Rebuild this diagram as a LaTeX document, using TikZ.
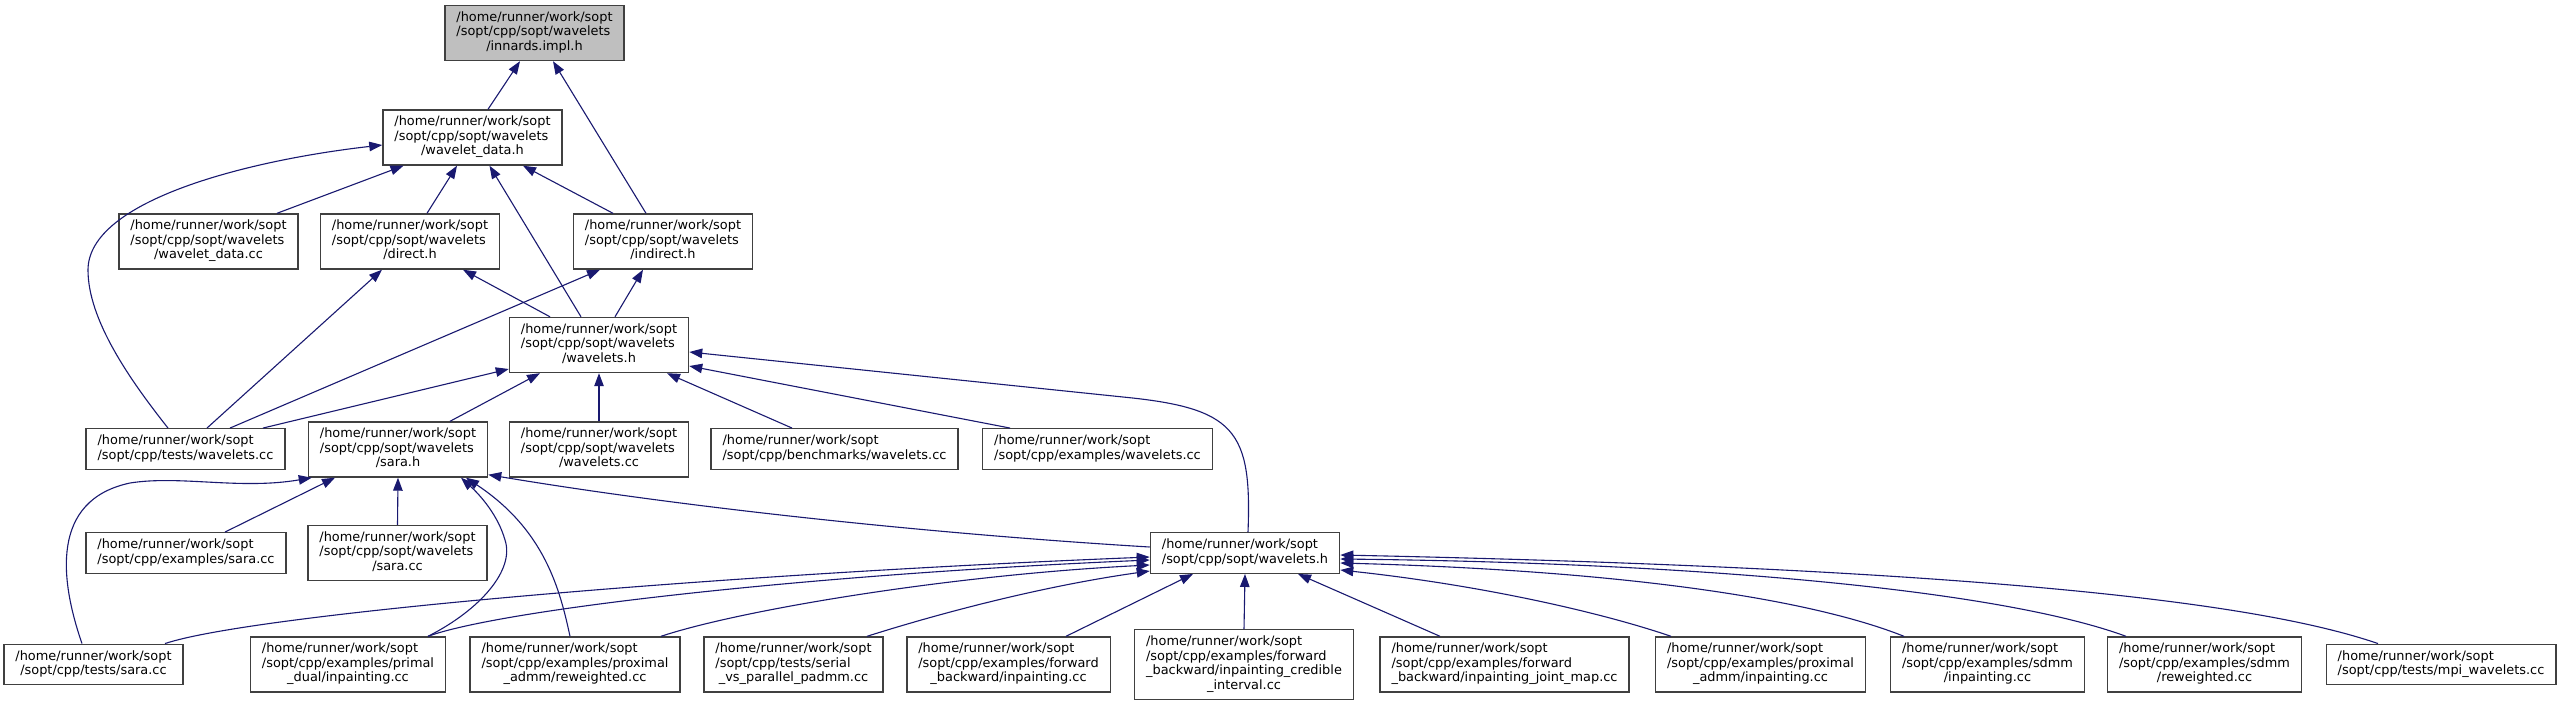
\documentclass[tikz,border=0pt]{standalone}
\usepackage{fontspec}
\setmainfont{DejaVu Sans}
\usetikzlibrary{arrows.meta,positioning}
\definecolor{cEdge}{HTML}{191970}
\definecolor{cFrame}{HTML}{404040}
\definecolor{cRoot}{HTML}{BFBFBF}
% lines left aligned, last line centred
\newcommand{\flabel}[2]{\begin{tabular}{@{}l@{}}#1\\\multicolumn{1}{@{}c@{}}{#2}\end{tabular}}
\tikzset{
  filebox/.style={rectangle, draw=cFrame, line width=1.4pt, fill=white,
    inner xsep=11.5pt, inner ysep=5.75pt, font=\fontsize{12.9}{14.5}\selectfont},
  rootbox/.style={filebox, fill=cRoot},
}

\begin{document}
\begin{tikzpicture}[
  x=1pt, y=-1pt,
  dep/.style={-{Triangle[length=13pt,width=9.5pt]}, line width=1.1pt, cEdge},
]
\fill[white] (0,0) rectangle (2563,705);
\useasboundingbox (0,0) rectangle (2563,705);
% rows 0 to 3
\node[rootbox] (innards) at (534.5,33) {\flabel{/home/runner/work/sopt\\/sopt/cpp/sopt/wavelets}{/innards.impl.h}};
\node[filebox] (wdh) at (472.5,137.5) {\flabel{/home/runner/work/sopt\\/sopt/cpp/sopt/wavelets}{/wavelet\_data.h}};
\node[filebox] (wdcc) at (208.5,241.5) {\flabel{/home/runner/work/sopt\\/sopt/cpp/sopt/wavelets}{/wavelet\_data.cc}};
\node[filebox] (direct) at (410,241.5) {\flabel{/home/runner/work/sopt\\/sopt/cpp/sopt/wavelets}{/direct.h}};
\node[filebox] (indirect) at (663,241.5) {\flabel{/home/runner/work/sopt\\/sopt/cpp/sopt/wavelets}{/indirect.h}};
\node[filebox] (wh) at (599,345) {\flabel{/home/runner/work/sopt\\/sopt/cpp/sopt/wavelets}{/wavelets.h}};
% row 4
\node[filebox] (testwcc) at (185.5,449) {\flabel{/home/runner/work/sopt}{/sopt/cpp/tests/wavelets.cc}};
\node[filebox] (sarah) at (398,449.5) {\flabel{/home/runner/work/sopt\\/sopt/cpp/sopt/wavelets}{/sara.h}};
\node[filebox] (wcc) at (599,449.5) {\flabel{/home/runner/work/sopt\\/sopt/cpp/sopt/wavelets}{/wavelets.cc}};
\node[filebox] (bench) at (834.5,449) {\flabel{/home/runner/work/sopt}{/sopt/cpp/benchmarks/wavelets.cc}};
\node[filebox] (exwcc) at (1097.5,449) {\flabel{/home/runner/work/sopt}{/sopt/cpp/examples/wavelets.cc}};
% row 5
\node[filebox] (exsara) at (186,553) {\flabel{/home/runner/work/sopt}{/sopt/cpp/examples/sara.cc}};
\node[filebox] (saracc) at (397.5,553) {\flabel{/home/runner/work/sopt\\/sopt/cpp/sopt/wavelets}{/sara.cc}};
\node[filebox] (swh) at (1245,553) {\flabel{/home/runner/work/sopt}{/sopt/cpp/sopt/wavelets.h}};
% row 6
\node[filebox] (testsara) at (93.5,664.5) {\flabel{/home/runner/work/sopt}{/sopt/cpp/tests/sara.cc}};
\node[filebox] (primal) at (348,664.5) {\flabel{/home/runner/work/sopt\\/sopt/cpp/examples/primal}{\_dual/inpainting.cc}};
\node[filebox] (proxrw) at (575,664.5) {\flabel{/home/runner/work/sopt\\/sopt/cpp/examples/proximal}{\_admm/reweighted.cc}};
\node[filebox] (serial) at (793.5,664.5) {\flabel{/home/runner/work/sopt\\/sopt/cpp/tests/serial}{\_vs\_parallel\_padmm.cc}};
\node[filebox] (fbinp) at (1008.5,664.5) {\flabel{/home/runner/work/sopt\\/sopt/cpp/examples/forward}{\_backward/inpainting.cc}};
\node[filebox] (credible) at (1244,664.5) {\flabel{/home/runner/work/sopt\\/sopt/cpp/examples/forward\\\_backward/inpainting\_credible}{\_interval.cc}};
\node[filebox] (jointmap) at (1504.5,664.5) {\flabel{/home/runner/work/sopt\\/sopt/cpp/examples/forward}{\_backward/inpainting\_joint\_map.cc}};
\node[filebox] (proxinp) at (1760.5,664.5) {\flabel{/home/runner/work/sopt\\/sopt/cpp/examples/proximal}{\_admm/inpainting.cc}};
\node[filebox] (sdmminp) at (1987.5,664.5) {\flabel{/home/runner/work/sopt\\/sopt/cpp/examples/sdmm}{/inpainting.cc}};
\node[filebox] (sdmmrw) at (2204.5,664.5) {\flabel{/home/runner/work/sopt\\/sopt/cpp/examples/sdmm}{/reweighted.cc}};
\node[filebox] (mpi) at (2441,664.5) {\flabel{/home/runner/work/sopt}{/sopt/cpp/tests/mpi\_wavelets.cc}};
% includes of innards.impl.h
\draw[dep] ([xshift=15.5pt]wdh.north) -- ([xshift=-14.5pt]innards.south);
\draw[dep] ([xshift=-17pt]indirect.north) -- ([xshift=18.5pt]innards.south);
% includes of wavelet_data.h
\draw[dep] ([xshift=68.5pt]wdcc.north) -- ([xshift=-69pt]wdh.south);
\draw[dep] ([xshift=17pt]direct.north) -- ([xshift=-15.5pt]wdh.south);
\draw[dep] ([xshift=-18pt]wh.north) -- ([xshift=17pt]wdh.south);
\draw[dep] ([xshift=-50pt]indirect.north) -- ([xshift=50.5pt]wdh.south);
\draw[dep] ([xshift=-17.5pt]testwcc.north) .. controls (130,380) and (88,320) .. (88,270)
  .. controls (88,200) and (250,160) .. ([yshift=-7.5pt]wdh.west);
% includes of direct.h and indirect.h
\draw[dep] ([xshift=21.5pt]testwcc.north) -- ([xshift=-28pt]direct.south);
\draw[dep] ([xshift=-49pt]wh.north) -- ([xshift=53pt]direct.south);
\draw[dep] ([xshift=44.5pt]testwcc.north) -- ([xshift=-63pt]indirect.south);
\draw[dep] ([xshift=16pt]wh.north) -- ([xshift=-20pt]indirect.south);
% includes of wavelets.h
\draw[dep] ([xshift=77.5pt]testwcc.north) -- ([yshift=-24pt]wh.west);
\draw[dep] ([xshift=52pt]sarah.north) -- ([xshift=-59pt]wh.south);
\draw[dep] (wcc.north) -- (wh.south);
\draw[dep] ([xshift=-42.5pt]bench.north) -- ([xshift=68pt]wh.south);
\draw[dep] ([xshift=-87.5pt]exwcc.north) -- ([yshift=-21pt]wh.east);
\draw[dep] ([xshift=3pt]swh.north) .. controls (1252,430) and (1235,408) .. (1123,397)
  -- ([yshift=-7pt]wh.east);
% includes of sara.h
\draw[dep] ([xshift=-11.5pt]testsara.north) .. controls (60,580) and (50,500) .. (130,483)
  .. controls (180,475) and (240,490) .. ([xshift=4pt]sarah.south west);
\draw[dep] ([xshift=39pt]exsara.north) -- ([xshift=-63pt]sarah.south);
\draw[dep] (saracc.north) -- (sarah.south);
\draw[dep] ([xshift=80pt]primal.north) .. controls (480,610) and (515,570) .. (505,540)
  .. controls (498,515) and (480,495) .. ([xshift=63pt]sarah.south);
\draw[dep] ([xshift=-5pt]proxrw.north) .. controls (560,590) and (545,530) .. ([xshift=68pt]sarah.south);
\draw[dep] ([yshift=6pt]swh.west) .. controls (950,535) and (700,510) .. ([yshift=3pt]sarah.south east);
% includes of sopt/wavelets.h
\draw[dep] ([xshift=71.5pt]testsara.north) .. controls (250,615) and (700,575) .. ([yshift=-4pt]swh.west);
\draw[dep] ([xshift=80pt]primal.north) .. controls (500,610) and (800,575) .. ([yshift=-7pt]swh.west);
\draw[dep] ([xshift=86pt]proxrw.north) .. controls (740,610) and (950,575) .. ([yshift=-12pt]swh.west);
\draw[dep] ([xshift=73.5pt]serial.north) .. controls (950,610) and (1050,585) .. ([yshift=-18pt]swh.west);
\draw[dep] ([xshift=57.5pt]fbinp.north) -- ([xshift=-52pt]swh.south);
\draw[dep] (credible.north) -- (swh.south);
\draw[dep] ([xshift=-64.5pt]jointmap.north) -- ([xshift=53pt]swh.south);
\draw[dep] ([xshift=-89.5pt]proxinp.north) .. controls (1600,612) and (1480,585) .. ([yshift=-17pt]swh.east);
\draw[dep] ([xshift=-83.5pt]sdmminp.north) .. controls (1800,595) and (1600,570) .. ([yshift=-10pt]swh.east);
\draw[dep] ([xshift=-78.5pt]sdmmrw.north) .. controls (2000,590) and (1700,563) .. ([yshift=-6pt]swh.east);
\draw[dep] ([xshift=-63pt]mpi.north) .. controls (2280,610) and (2050,570) .. ([yshift=-2pt]swh.east);
\end{tikzpicture}
\end{document}
